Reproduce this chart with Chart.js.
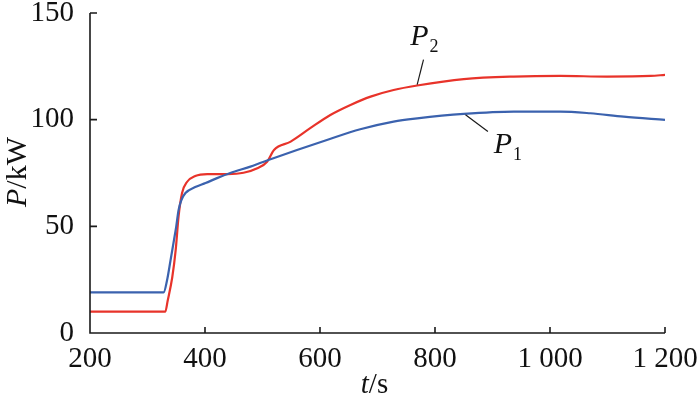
<!DOCTYPE html>
<html>
<head>
<meta charset="utf-8">
<script src="https://cdn.jsdelivr.net/npm/chart.js@4"></script>
<style>
html,body{margin:0;padding:0;background:#fff;}
#wrap{width:700px;height:396px;position:relative;}
</style>
</head>
<body>
<div id="wrap"><canvas id="c" width="700" height="396"></canvas></div>
<script>
// ---- data ----
const tP1 = [200, 328, 334, 340, 346, 350, 354, 359, 366, 383, 401, 421, 444, 479, 519, 560, 612, 670, 728, 769, 850, 937, 1018, 1070, 1128, 1200];
const valP1 = [19, 19, 24.7, 34, 43.5, 50, 57.6, 62.3, 65.6, 68.4, 70.3, 72.6, 75, 78, 81.9, 85.8, 90.5, 95.5, 99.1, 100.6, 102.7, 103.8, 103.8, 103, 101.4, 99.9];
const tP2 = [200, 331, 335, 343, 349, 354, 360, 369, 383, 404, 439, 467, 491, 508, 520, 549, 583, 618, 653, 688, 728, 769, 850, 937, 1018, 1099, 1175, 1200];
const valP2 = [10, 10, 15, 26, 38.8, 54.5, 65.5, 70.9, 73.6, 74.5, 74.5, 75.1, 77.2, 80.3, 85.8, 89.7, 96, 102.2, 106.9, 110.8, 113.9, 116, 119, 120.2, 120.5, 120.2, 120.5, 121];
const xTicks = [200, 400, 600, 800, 1000, 1200];
const yTicks = [0, 50, 100, 150];
const seriesNames = ['P1', 'P2'];
// label anchors & leader lines in data coordinates
const labelP2 = {t: 757, p: 135.1, sub: '2'};
const labelP1 = {t: 902, p: 84.5, sub: '1'};
const leaderP2 = [[780, 128.1], [769, 116.4]];
const leaderP1 = [[853, 102.3], [892, 94.5]];

const serif = '"Liberation Serif", "Times New Roman", serif';
Chart.defaults.font.family = serif;
const toXY = (ts, vs) => ts.map((t, i) => ({x: t, y: vs[i]}));
const fmt = v => { const s = String(v); return s.length > 3 ? s.slice(0, s.length - 3) + ' ' + s.slice(-3) : s; };

const decor = {
  id: 'decor',
  afterDraw(chart) {
    const ctx = chart.ctx, xs = chart.scales.x, ys = chart.scales.y, a = chart.chartArea;
    ctx.save();
    ctx.strokeStyle = '#1a1a1a';
    ctx.lineWidth = 1.6;
    ctx.lineCap = 'butt';
    // axes
    ctx.beginPath();
    ctx.moveTo(a.left, ys.getPixelForValue(150));
    ctx.lineTo(a.left, ys.getPixelForValue(0));
    ctx.lineTo(xs.getPixelForValue(1200), ys.getPixelForValue(0));
    ctx.stroke();
    // inward ticks
    ctx.beginPath();
    xTicks.forEach(v => { if (v === 200) return; const x = xs.getPixelForValue(v); ctx.moveTo(x, a.bottom); ctx.lineTo(x, a.bottom - 6); });
    yTicks.forEach(v => { if (v === 0) return; const y = ys.getPixelForValue(v); ctx.moveTo(a.left, y); ctx.lineTo(a.left + 7, y); });
    ctx.stroke();
    // leader lines
    ctx.lineWidth = 1.2;
    [leaderP2, leaderP1].forEach(l => {
      ctx.beginPath();
      ctx.moveTo(xs.getPixelForValue(l[0][0]), ys.getPixelForValue(l[0][1]));
      ctx.lineTo(xs.getPixelForValue(l[1][0]), ys.getPixelForValue(l[1][1]));
      ctx.stroke();
    });
    // series labels P with subscript
    ctx.fillStyle = '#111';
    ctx.textBaseline = 'alphabetic';
    ctx.textAlign = 'left';
    [labelP2, labelP1].forEach(l => {
      const x = xs.getPixelForValue(l.t), y = ys.getPixelForValue(l.p);
      ctx.font = 'italic 30px ' + serif;
      ctx.fillText('P', x, y);
      const w = ctx.measureText('P').width;
      ctx.font = '18px ' + serif;
      ctx.fillText(l.sub, x + w + 1, y + 7);
    });
    // x axis title: t/s
    ctx.font = 'italic 29px ' + serif;
    const wt = ctx.measureText('t').width;
    ctx.font = '29px ' + serif;
    const ws = ctx.measureText('/s').width;
    const cx = (a.left + a.right) / 2 - 3;
    const x0 = cx - (wt + ws) / 2;
    const by = 393;
    ctx.font = 'italic 29px ' + serif;
    ctx.fillText('t', x0, by);
    ctx.font = '29px ' + serif;
    ctx.fillText('/s', x0 + wt, by);
    // y axis title: P/kW
    ctx.translate(25.5, (a.top + a.bottom) / 2 - 1);
    ctx.rotate(-Math.PI / 2);
    ctx.font = 'italic 30px ' + serif;
    const wp = ctx.measureText('P').width;
    ctx.font = '30px ' + serif;
    const wk = ctx.measureText('/kW').width;
    const sx = -(wp + wk) / 2;
    ctx.font = 'italic 30px ' + serif;
    ctx.fillText('P', sx, 0);
    ctx.font = '30px ' + serif;
    ctx.fillText('/kW', sx + wp, 0);
    ctx.restore();
  }
};

new Chart(document.getElementById('c'), {
  type: 'line',
  data: {
    datasets: [
      {label: seriesNames[0], data: toXY(tP1, valP1), borderColor: '#3b62ae', borderWidth: 2.2, pointRadius: 0, cubicInterpolationMode: 'monotone', fill: false},
      {label: seriesNames[1], data: toXY(tP2, valP2), borderColor: '#e8332a', borderWidth: 2.2, pointRadius: 0, cubicInterpolationMode: 'monotone', fill: false}
    ]
  },
  options: {
    responsive: false,
    animation: false,
    devicePixelRatio: 1,
    layout: {padding: {top: 13, right: 35, left: 0, bottom: 0}},
    plugins: {legend: {display: false}, tooltip: {enabled: false}},
    scales: {
      x: {
        type: 'linear', min: 200, max: 1200,
        afterBuildTicks: s => { s.ticks = xTicks.map(v => ({value: v})); },
        afterFit: s => { s.height = 63; s.paddingLeft = 0; s.paddingRight = 0; },
        grid: {display: false}, border: {display: false},
        ticks: {color: '#111', font: {family: serif, size: 29}, padding: 1, maxRotation: 0, autoSkip: false, callback: v => fmt(v)}
      },
      y: {
        type: 'linear', min: 0, max: 150,
        afterBuildTicks: s => { s.ticks = yTicks.map(v => ({value: v})); },
        afterFit: s => { s.width = 90; s.paddingTop = 0; s.paddingBottom = 0; },
        grid: {display: false}, border: {display: false},
        ticks: {color: '#111', font: {family: serif, size: 29}, padding: 8, autoSkip: false}
      }
    }
  },
  plugins: [decor]
});
</script>
</body>
</html>
